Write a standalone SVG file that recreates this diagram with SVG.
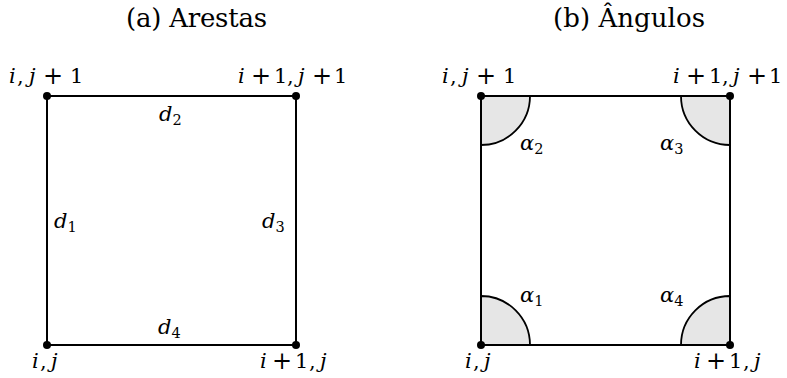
<svg xmlns="http://www.w3.org/2000/svg" width="787" height="378" viewBox="0 0 787 378">
<style>
text{font-family:"DejaVu Serif",serif;fill:#000}
.t{font-size:26px}
.m{font-size:21px;font-style:italic}
.r{font-size:21px;font-style:normal}
.p{font-size:24px;font-style:normal;text-anchor:middle}
.s{font-size:14.5px;font-style:normal}
.edge{stroke:#000;stroke-width:2;fill:none;stroke-linecap:round}
.dot{fill:#000}
.sector{fill:#e6e6e6;stroke:#000;stroke-width:1.8;stroke-linejoin:round}
</style>
<rect width="787" height="378" fill="#fff"/>

<g id="titles">
<text class="t" x="126" y="27" textLength="141" lengthAdjust="spacing">(a) Arestas</text>
<text class="t" x="553" y="27" textLength="152" lengthAdjust="spacing">(b) Ângulos</text>
</g>

<g id="angles">
<path class="sector" d="M481,345 L481,296 A49,49 0 0 1 530,345 Z"/>
<path class="sector" d="M481,96 L530,96 A49,49 0 0 1 481,145 Z"/>
<path class="sector" d="M730,96 L730,145 A49,49 0 0 1 681,96 Z"/>
<path class="sector" d="M730,345 L681,345 A49,49 0 0 1 730,296 Z"/>
</g>

<g id="connectors">
<line class="edge" x1="47" y1="96" x2="296" y2="96"/>
<line class="edge" x1="296" y1="96" x2="296" y2="345"/>
<line class="edge" x1="296" y1="345" x2="47" y2="345"/>
<line class="edge" x1="47" y1="345" x2="47" y2="96"/>
<line class="edge" x1="481" y1="96" x2="730" y2="96"/>
<line class="edge" x1="730" y1="96" x2="730" y2="345"/>
<line class="edge" x1="730" y1="345" x2="481" y2="345"/>
<line class="edge" x1="481" y1="345" x2="481" y2="96"/>
</g>

<g id="edge-labels">
<text class="m" x="159" y="121">d<tspan class="s" dy="4">2</tspan></text>
<text class="m" x="54" y="228">d<tspan class="s" dy="4">1</tspan></text>
<text class="m" x="262" y="228">d<tspan class="s" dy="4">3</tspan></text>
<text class="m" x="158" y="334">d<tspan class="s" dy="4">4</tspan></text>
</g>

<g id="angle-labels">
<text class="m" x="520" y="150">α<tspan class="s" dy="4">2</tspan></text>
<text class="m" x="660" y="150">α<tspan class="s" dy="4">3</tspan></text>
<text class="m" x="520" y="302">α<tspan class="s" dy="4">1</tspan></text>
<text class="m" x="660" y="302">α<tspan class="s" dy="4">4</tspan></text>
</g>

<g id="node-a-ij1">
<circle class="dot" cx="47" cy="96" r="4"/>
<text class="m" x="9" y="83">i</text>
<text class="r" x="17" y="83">,</text>
<text class="m" x="29" y="83">j</text>
<text class="p" x="53" y="84">+</text>
<text class="r" x="70" y="83">1</text>
</g>
<g id="node-a-i1j1">
<circle class="dot" cx="296" cy="96" r="4"/>
<text class="m" x="238" y="83">i</text>
<text class="p" x="261" y="84">+</text>
<text class="r" x="274" y="83">1</text>
<text class="r" x="287" y="83">,</text>
<text class="m" x="298" y="83">j</text>
<text class="p" x="322" y="84">+</text>
<text class="r" x="334" y="83">1</text>
</g>
<g id="node-a-ij">
<circle class="dot" cx="47" cy="345" r="4"/>
<text class="m" x="32" y="368">i</text>
<text class="r" x="40" y="368">,</text>
<text class="m" x="51" y="368">j</text>
</g>
<g id="node-a-i1j">
<circle class="dot" cx="296" cy="345" r="4"/>
<text class="m" x="260" y="368">i</text>
<text class="p" x="282" y="369">+</text>
<text class="r" x="295" y="368">1</text>
<text class="r" x="309" y="368">,</text>
<text class="m" x="320" y="368">j</text>
</g>

<g id="node-b-ij1">
<circle class="dot" cx="481" cy="96" r="4"/>
<text class="m" x="442" y="83">i</text>
<text class="r" x="450" y="83">,</text>
<text class="m" x="462" y="83">j</text>
<text class="p" x="486" y="84">+</text>
<text class="r" x="503" y="83">1</text>
</g>
<g id="node-b-i1j1">
<circle class="dot" cx="730" cy="96" r="4"/>
<text class="m" x="673" y="83">i</text>
<text class="p" x="696" y="84">+</text>
<text class="r" x="709" y="83">1</text>
<text class="r" x="722" y="83">,</text>
<text class="m" x="733" y="83">j</text>
<text class="p" x="757" y="84">+</text>
<text class="r" x="769" y="83">1</text>
</g>
<g id="node-b-ij">
<circle class="dot" cx="481" cy="345" r="4"/>
<text class="m" x="465" y="368">i</text>
<text class="r" x="473" y="368">,</text>
<text class="m" x="484" y="368">j</text>
</g>
<g id="node-b-i1j">
<circle class="dot" cx="730" cy="345" r="4"/>
<text class="m" x="694" y="368">i</text>
<text class="p" x="716" y="369">+</text>
<text class="r" x="729" y="368">1</text>
<text class="r" x="743" y="368">,</text>
<text class="m" x="754" y="368">j</text>
</g>
</svg>
